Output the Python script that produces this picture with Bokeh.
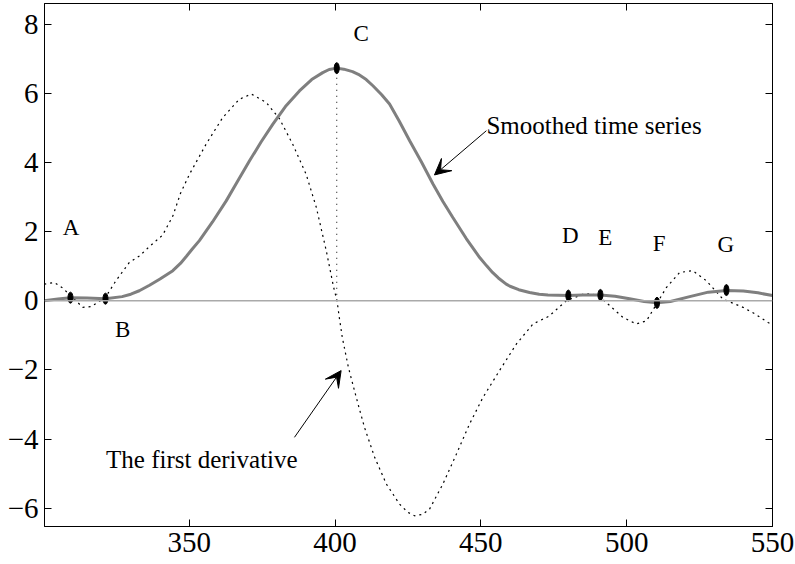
from bokeh.plotting import figure
from bokeh.models import (Arrow, VeeHead, LinearAxis, FixedTicker, Range1d, ColumnDataSource, Span,
                          CustomLabelingPolicy)
from bokeh.embed import file_html
from bokeh.resources import INLINE
from bokeh.core.properties import value

# ---- data ----
smooth_x = [300, 305, 309.3, 315, 321.3, 327, 330, 332.9, 336.4, 340, 344.4, 347, 349, 351, 353.5,
            358, 362.7, 366.7, 370.7, 374.7, 378.7, 383, 387.8, 392, 395.8, 398, 400.6, 403, 406,
            408, 410.7, 413, 416, 418.7, 422, 425.6, 429.6, 433.6, 437, 440.4, 445, 449.6, 452,
            454, 456, 458.7, 460, 463, 466.7, 470, 473, 480, 485, 491, 496, 501, 506, 510.4, 515,
            521.6, 528, 534.2, 540, 545, 550]
smooth_y = [0.00, 0.05, 0.09, 0.08, 0.06, 0.12, 0.19, 0.29, 0.45, 0.63, 0.87, 1.08, 1.28, 1.49,
            1.74, 2.28, 2.89, 3.47, 4.05, 4.60, 5.11, 5.62, 6.07, 6.40, 6.60, 6.69, 6.73, 6.70,
            6.63, 6.55, 6.40, 6.22, 5.96, 5.69, 5.20, 4.63, 4.02, 3.38, 2.87, 2.41, 1.80, 1.25,
            1.01, 0.82, 0.66, 0.48, 0.42, 0.32, 0.24, 0.19, 0.17, 0.15, 0.17, 0.17, 0.13, 0.06,
            -0.02, -0.06, -0.02, 0.12, 0.25, 0.30, 0.28, 0.23, 0.15]

deriv_x = [300.3, 303.8, 306.6, 309.5, 313.5, 316.4, 318.6, 321.3, 324.9, 329.5, 333, 336, 340.9,
           344.4, 347, 350.1, 355.8, 361.5, 367.2, 371.3, 376.4, 381, 385.5, 390.1, 393.6, 397,
           399.5, 400.7, 401.5, 402.5, 404.6, 407.3, 410.1, 413.6, 417.6, 422.1, 425, 427.3,
           430, 432.4, 437, 441.6, 446.1, 450.7, 456.4, 462.2, 467.9, 473.3, 479.3, 485, 488,
           490.7, 494.2, 498.7, 503.3, 506.8, 510.2, 513.6, 518.2, 522.7, 527.3, 533, 539.9,
           544, 548.5, 550]
deriv_y = [0.48, 0.53, 0.37, 0.14, -0.19, -0.17, -0.05, 0.10, 0.58, 1.11, 1.30, 1.54, 1.90,
           2.45, 3.10, 3.66, 4.53, 5.30, 5.83, 5.98, 5.74, 5.26, 4.53, 3.66, 2.70, 1.45,
           0.40, 0.00, -0.50, -1.06, -1.93, -2.80, -3.66, -4.53, -5.30, -5.88, -6.12, -6.22,
           -6.18, -6.03, -5.30, -4.44, -3.57, -2.80, -2.02, -1.25, -0.67, -0.45, 0.00, 0.19,
           0.20, 0.12, -0.14, -0.48, -0.67, -0.58, -0.10, 0.38, 0.82, 0.87, 0.58, 0.05, -0.19,
           -0.38, -0.63, -0.70]

mark_x = [309.3, 321.3, 400.6, 480.0, 491.0, 510.4, 534.2]
mark_y = [0.09, 0.06, 6.73, 0.15, 0.17, -0.06, 0.31]
letters = ["A", "B", "C", "D", "E", "F", "G"]
letter_x = [309.5, 327.2, 409.0, 480.7, 492.7, 511.1, 534.0]
letter_y = [2.12, -0.82, 7.74, 1.88, 1.83, 1.66, 1.64]

note_text = ["Smoothed time series", "The first derivative"]
note_x = [451.9, 321.5]
note_y = [5.06, -4.58]
arrow_x0 = [451.9, 386.1]
arrow_y0 = [4.92, -3.95]
arrow_x1 = [434.1, 402.1]
arrow_y1 = [3.64, -2.02]

x_ticks = [350, 400, 450, 500, 550]
x_tick_labels = ["350", "400", "450", "500", "550"]
y_ticks = [-6, -4, -2, 0, 2, 4, 6, 8]
y_tick_labels = ["\u22126", "\u22124", "\u22122", "0", "2", "4", "6", "8"]

FONT = "Liberation Serif"

p = figure(width=795, height=564, output_backend="svg", toolbar_location=None,
           x_range=Range1d(300.4, 550), y_range=Range1d(-6.53, 8.6),
           min_border_left=44, min_border_right=23, min_border_top=3, min_border_bottom=38,
           x_axis_location=None, y_axis_location=None)
p.xgrid.visible = False
p.ygrid.visible = False
p.outline_line_color = "black"
p.outline_line_width = 1
p.background_fill_color = "white"
p.border_fill_color = "white"

no_labels = CustomLabelingPolicy(code="""
for (const i of Array.from(indices)) { indices.unset(i) }
return indices
""")


def mk_axis(ticks, labels, show):
    ax = LinearAxis(ticker=FixedTicker(ticks=ticks))
    ax.major_tick_in = 7
    ax.major_tick_out = 0
    ax.minor_tick_in = 0
    ax.minor_tick_out = 0
    ax.axis_line_color = "black"
    ax.major_tick_line_color = "black"
    if show:
        ax.major_label_overrides = {float(t): l for t, l in zip(ticks, labels)}
        ax.major_label_text_font = FONT
        ax.major_label_text_font_size = "29px"
        ax.major_label_text_color = "black"
        ax.major_label_standoff = 6
    else:
        ax.major_label_text_font_size = "0px"
        ax.major_label_standoff = 0
        ax.major_label_policy = no_labels
    return ax


p.add_layout(mk_axis(x_ticks, x_tick_labels, True), "below")
p.add_layout(mk_axis(y_ticks, y_tick_labels, True), "left")
p.add_layout(mk_axis(x_ticks, x_tick_labels, False), "above")
p.add_layout(mk_axis(y_ticks, y_tick_labels, False), "right")

p.add_layout(Span(location=0, dimension="width", line_color="#aaaaaa", line_width=1.5))

p.line(deriv_x, deriv_y, line_color="black", line_width=1.2, line_dash="2 4")
p.line(smooth_x, smooth_y, line_color="#7f7f7f", line_width=3)
p.segment(x0=[mark_x[2]], y0=[0], x1=[mark_x[2]], y1=[mark_y[2]],
          line_color="black", line_width=1, line_dash="1 5")
p.ellipse(x=mark_x, y=mark_y, width=5, height=11, width_units="screen", height_units="screen",
          fill_color="black", line_color="black")

src = ColumnDataSource(dict(x=letter_x, y=letter_y, t=letters))
p.text(x="x", y="y", text="t", source=src, text_font=value(FONT), text_font_size=value("23px"),
       text_align="center", text_baseline="middle", text_color="black")

nsrc = ColumnDataSource(dict(x=note_x, y=note_y, t=note_text))
p.text(x="x", y="y", text="t", source=nsrc, text_font=value(FONT), text_font_size=value("25px"),
       text_align="left", text_baseline="alphabetic", text_color="black")

for i in range(len(arrow_x0)):
    p.add_layout(Arrow(end=VeeHead(size=16, fill_color="black", line_color="black", line_width=1),
                       x_start=arrow_x0[i], y_start=arrow_y0[i], x_end=arrow_x1[i], y_end=arrow_y1[i],
                       line_color="black", line_width=1))

open("out.html", "w").write(file_html(p, INLINE))
